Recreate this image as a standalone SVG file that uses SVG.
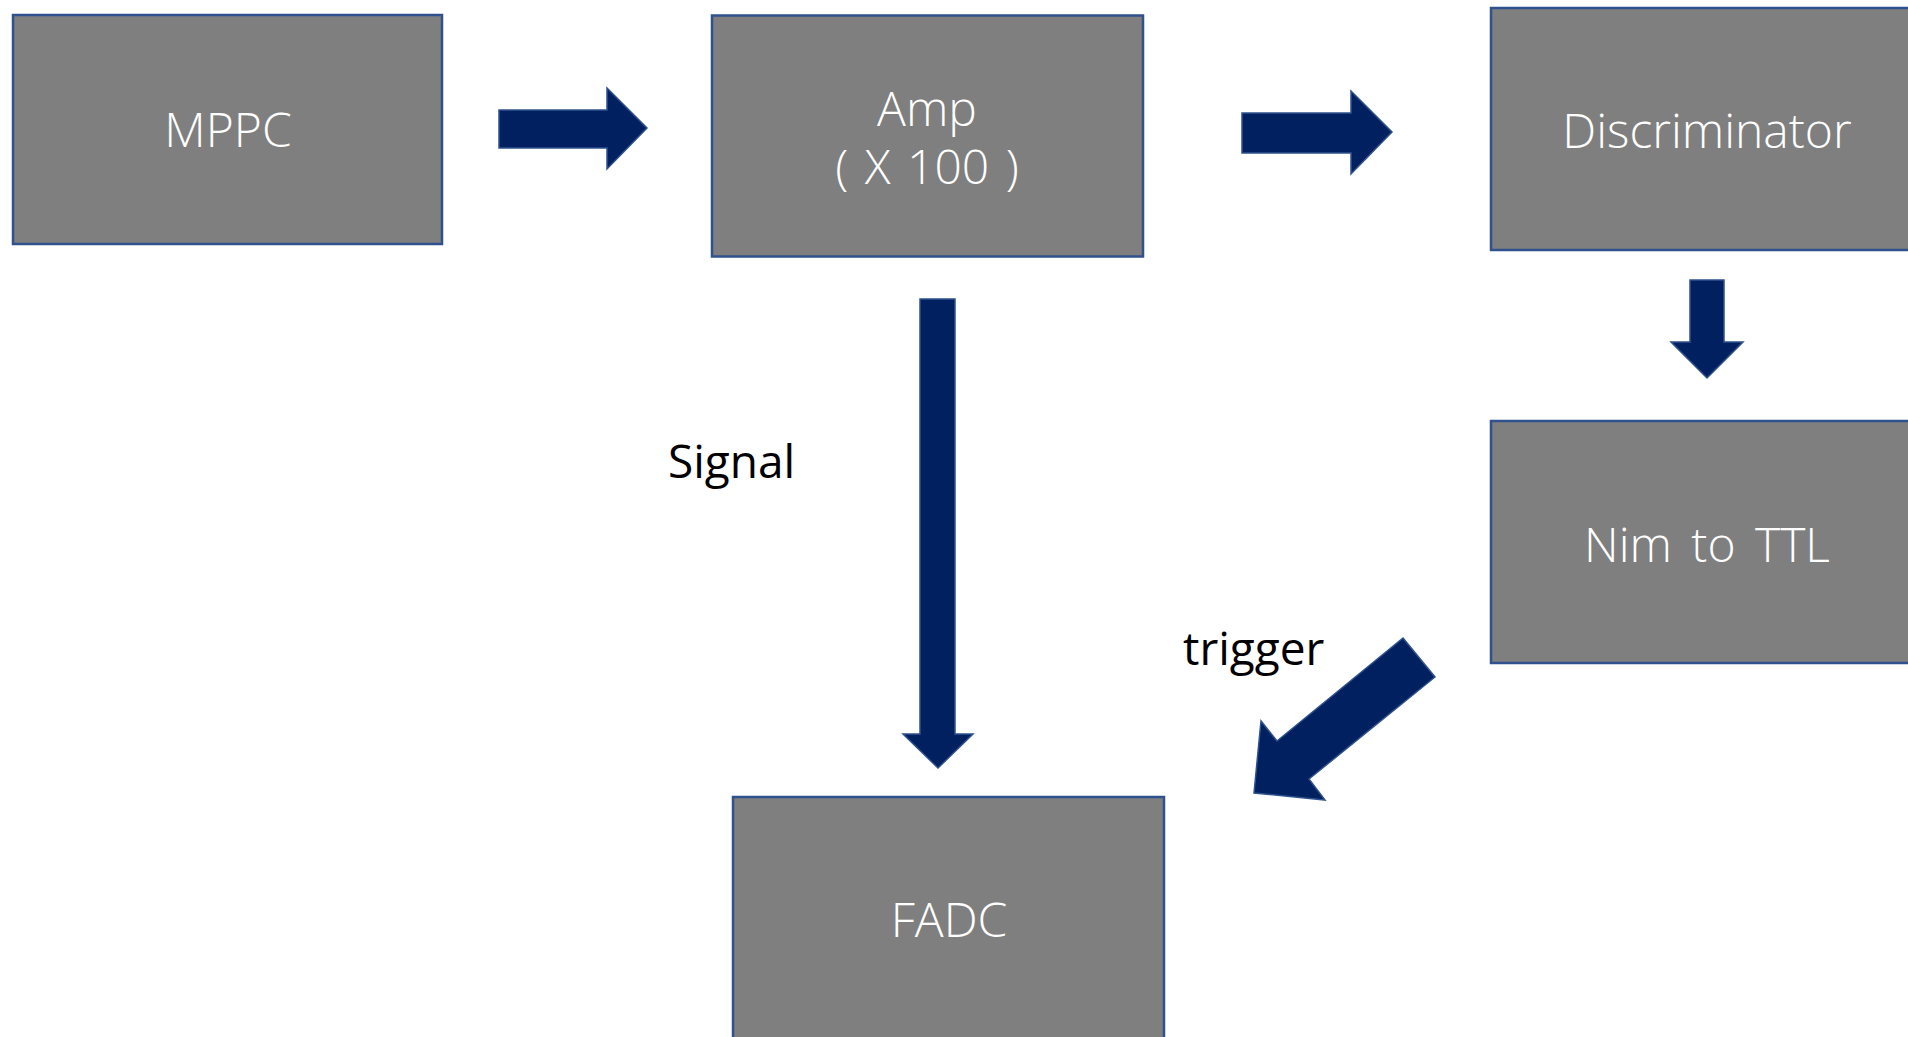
<svg xmlns="http://www.w3.org/2000/svg" width="1908" height="1037" viewBox="0 0 1908 1037">
<style>
.box{fill:#7f7f7f;stroke:#2f528f;stroke-width:2.5}
.arr{fill:#002060;stroke:#2f528f;stroke-width:1.5;stroke-linejoin:miter}
.bt{font-family:"Open Sans","Noto Sans",sans-serif;font-weight:300;font-size:48px;fill:#ffffff;text-anchor:middle}
.lb{font-family:"Open Sans","Noto Sans",sans-serif;font-weight:400;font-size:46px;fill:#000000}
</style>
<rect width="1908" height="1037" fill="#ffffff"/>
<g id="connectors">
<polygon class="arr" points="499,110 607,110 607,88 647,128 607,169 607,148 499,148"/>
<polygon class="arr" points="1242,113 1351,113 1351,91 1392,132 1351,174 1351,153 1242,153"/>
<polygon class="arr" points="1690,280 1724,280 1724,342 1743,342 1707,378 1671,342 1690,342"/>
<polygon class="arr" points="920,299 955,299 955,734 973,734 938,768 903,734 920,734"/>
<polygon class="arr" points="1403,638 1435,677 1309,779 1325,800 1254,793 1261,721 1277,741"/>
<text class="lb" x="668" y="478">Signal</text>
<text class="lb" x="1183" y="665">trigger</text>
</g>
<g id="mppc">
<rect class="box" x="13" y="15" width="429" height="229"/>
<text class="bt" x="228" y="147">MPPC</text>
</g>
<g id="amp">
<rect class="box" x="712" y="15.5" width="431" height="241"/>
<text class="bt" style="word-spacing:4px"><tspan x="927" y="126">Amp</tspan><tspan x="927" y="184">( X 100 )</tspan></text>
</g>
<g id="discriminator">
<rect class="box" x="1491" y="8" width="431" height="242"/>
<text class="bt" x="1707" y="148">Discriminator</text>
</g>
<g id="nimttl">
<rect class="box" x="1491" y="421" width="431" height="242"/>
<text class="bt" x="1707" y="562" style="word-spacing:7px">Nim to TTL</text>
</g>
<g id="fadc">
<rect class="box" x="733" y="797" width="431" height="250"/>
<text class="bt" x="949" y="937">FADC</text>
</g>
</svg>
